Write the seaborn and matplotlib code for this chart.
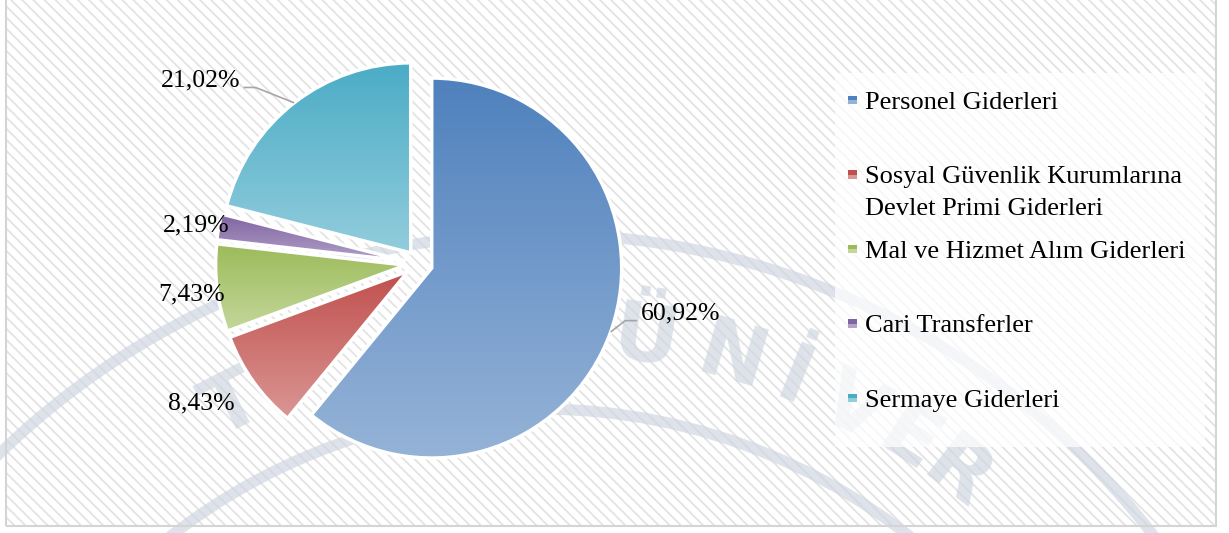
import numpy as np
import matplotlib.pyplot as plt
import seaborn as sns
from matplotlib.colors import LinearSegmentedColormap
from matplotlib.patches import Rectangle, Circle

# Veriler (harcama kalemlerinin payi, %)
kategoriler = [
    'Personel Giderleri',
    'Sosyal Güvenlik Kurumlarına\nDevlet Primi Giderleri',
    'Mal ve Hizmet Alım Giderleri',
    'Cari Transferler',
    'Sermaye Giderleri',
]
oranlar = [60.92, 8.43, 7.43, 2.19, 21.02]

# Dilim renkleri: ust (koyu) ve alt (acik) gradyan tonlari
renk_ust = ['#4F81BD', '#C0504D', '#9BBB59', '#8064A2', '#4BACC6']
renk_alt = ['#95B3D7', '#DA9694', '#C4D79B', '#B1A0C7', '#92CDDC']

# Etiket yerlesimi: yaricap katsayisi ve aci kaydirmasi (derece)
etiket_uzaklik = [1.40, 1.36, 1.21, 1.19, 1.50]
etiket_kayma = [8.8, -2.8, 0.9, 0.6, 12.2]
kilavuz_cizgi = [True, False, False, False, True]

# Arka plandaki soluk filigran harfleri ve acilari
filigran_harf = ['T', 'Ü', 'N', 'İ', 'V', 'E', 'R']
filigran_aci = [117.0, 81.0, 73.5, 68.0, 62.5, 57.0, 52.0]

sns.set_theme(style='white')
plt.rcParams['font.family'] = ['Liberation Serif', 'DejaVu Serif']

W, H = 1229, 533
fig = plt.figure(figsize=(W / 100, H / 100), dpi=100)
ax = fig.add_axes([0, 0, 1, 1])

# Tarali arka plan ve cerceve
plt.rcParams['hatch.linewidth'] = 1.3
ax.add_patch(Rectangle((6, 7), 1210, 540, facecolor='white', edgecolor='#e3e3e3',
                       hatch='\\\\\\', linewidth=0, zorder=0))
ax.add_patch(Rectangle((6, 7), 1210, 540, facecolor='none', edgecolor='#d4d4d4',
                       linewidth=1.5, zorder=0.9))

# Filigran (soluk muhur)
fc = (540, H - 1009)
for rr in [600, 775]:
    ax.add_patch(Circle(fc, rr, facecolor='none', edgecolor='#d0d7e2', linewidth=8,
                        alpha=0.7, zorder=0.8))
for harf, aci in zip(filigran_harf, filigran_aci):
    a = np.deg2rad(aci)
    ax.text(fc[0] + 677 * np.cos(a), fc[1] + 677 * np.sin(a), harf, rotation=aci - 90,
            ha='center', va='center', fontsize=58, family='DejaVu Sans', fontweight='bold',
            color='#d0d7e2', alpha=0.7, zorder=0.8, rotation_mode='anchor')

merkez = (419, 269.5)
yaricap = 190
patlama = 13.5

wedges, _ = ax.pie(oranlar, startangle=90, counterclock=False, radius=yaricap,
                   center=merkez, explode=[patlama] * len(oranlar),
                   wedgeprops=dict(edgecolor='white', linewidth=2.5))

# Her dilime dikey gradyan dolgu
for w, c1, c2 in zip(wedges, renk_ust, renk_alt):
    x0, y0, x1, y1 = w.get_path().get_extents().extents
    cmap = LinearSegmentedColormap.from_list('g', [c1, c2])
    im = ax.imshow(np.linspace(0, 1, 256).reshape(-1, 1), cmap=cmap, origin='upper',
                   extent=[x0, x1, y0, y1], aspect='auto', interpolation='bilinear', zorder=2)
    im.set_clip_path(w)
    w.set_facecolor('none')
    w.set_zorder(3)

# Yuzde etiketleri
for w, v, k, d, lead in zip(wedges, oranlar, etiket_uzaklik, etiket_kayma, kilavuz_cizgi):
    orta = np.deg2rad((w.theta1 + w.theta2) / 2)
    a = orta + np.deg2rad(d)
    tx = merkez[0] + k * yaricap * np.cos(a)
    ty = merkez[1] + k * yaricap * np.sin(a)
    ax.text(tx, ty, f'{v:.2f}%'.replace('.', ','), ha='center', va='center',
            fontsize=18.5, color='black', zorder=5)
    if lead:
        cx, cy = w.center
        px = cx + yaricap * np.cos(orta)
        py = cy + yaricap * np.sin(orta)
        yon = 1 if np.cos(a) > 0 else -1
        ex = tx - yon * 43
        ax.plot([px, ex - yon * 12, ex], [py, ty - 7, ty - 7], color='#a6a6a6',
                lw=1.2, zorder=4, solid_capstyle='butt')

# Gosterge (legend)
ax.add_patch(Rectangle((835, 86), 370, 374, facecolor='white', alpha=0.72,
                       edgecolor='none', zorder=1))
taban0, adim = 424, 74.5
for i, (lab, c1, c2) in enumerate(zip(kategoriler, renk_ust, renk_alt)):
    by = taban0 - i * adim
    ax.add_patch(Rectangle((848, by + 5), 8.5, 8.5, facecolor=c1, edgecolor='none', zorder=5))
    ax.add_patch(Rectangle((848, by + 5), 8.5, 4, facecolor=c2, edgecolor='none', zorder=5))
    for j, satir in enumerate(lab.split('\n')):
        ax.text(865, by - j * 31.5, satir, ha='left', va='baseline', fontsize=19,
                color='black', zorder=5)

ax.set_xlim(0, W)
ax.set_ylim(0, H)
ax.set_aspect('auto')
ax.axis('off')

fig.savefig('out.png', dpi=100, facecolor='white')
